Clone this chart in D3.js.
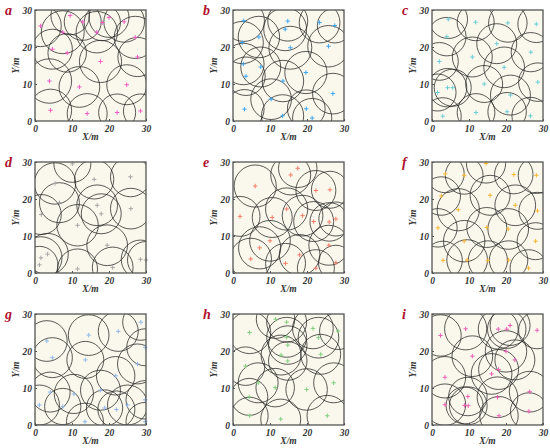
<!DOCTYPE html>
<html><head><meta charset="utf-8">
<script src="https://cdn.jsdelivr.net/npm/d3@7"></script>
<style>body{margin:0;background:#fff}svg{display:block}</style>
</head><body>
<svg id="c" width="550" height="448"></svg>
<script>
const panelLabels = ["a","b","c","d","e","f","g","h","i"];
const tickValues = [0,10,20,30];
const tickLabels = ["0","10","20","30"];
const xLabel = "X/m", yLabel = "Y/m";
const markColors = ["#f25cc6","#3ea8f2","#6ccdd6","#a6a6a6","#f47c68","#f6b631","#92b8ea","#82cf82","#ee5fb4"];

const ax = [1.5,9.5,12.9,18.2,20,24.1,7.5,16.7,27.1,4.7,8.7,27.7,17.7,3.9,12,24.8,4.2,14.1,22.2,28.5];
const ay = [25.7,28.5,26.8,26.6,28,26.8,24,24,22.6,19.4,18.4,17.3,16.1,10.8,9.2,9.8,2.9,2,2.3,2.7];
const ar = [5.6,5.2,5.0,4.9,5.4,5.5,5.8,5.6,5.7,5.4,5.2,5.3,5.7,6.0,5.5,5.4,5.7,5.4,5.0,4.6];

const bx = [2.9,14.8,14.1,23.4,27.5,2.5,7,15.5,25.8,2.8,7.5,3.5,19.7,13.5,27,10.3,3.1,13.4,19.8,21.4];
const by = [27.1,27,24.8,26.6,25.8,21.2,22.7,19.8,20.2,15.4,14.6,12.1,13.1,10.8,7.4,5.9,3.2,1.4,3.3,0.8];
const br = [5.6,5.4,5.8,5.5,4.7,5.7,5.6,5.8,5.6,5.6,5.4,5.2,5.7,5.6,5.5,5.5,5.3,5.7,5.1,5.3];

const cx = [4.4,11.8,20.5,28.2,4,17.5,26.7,2,10.9,19.5,14.1,28.6,1.5,4.2,5.6,21.2,2.9,11.9,20.3,26.6];
const cy = [27.5,26.7,26.5,26.2,22.8,20.9,18.6,16.1,17.3,14.5,10,10.5,7.7,9,9,7,1.3,2.3,2.5,1.4];
const cr = [5.2,5.0,5.2,5.0,5.2,5.4,5.3,5.1,5.4,5.5,5.0,5.2,5.0,5.2,5.0,5.4,5.0,5.1,5.2,5.0];

const dx = [10.1,5.4,16,25.8,6.6,16.8,17.9,25.9,1.7,11.5,19.5,1.6,3.4,1.2,11.5,21,28.5,30];
const dy = [29.5,24.2,25.3,26,19,18.3,16,17.4,15.8,12.9,7.5,4.1,5.1,2.2,1.1,1.5,3.7,3.5];
const dr = [5.0,5.6,5.3,5.4,5.4,5.5,5.4,5.5,5.4,5.6,5.5,5.7,5.6,5.0,5.4,5.5,5.2,5.0];

const ex = [17.5,15.6,6,22.4,26.2,1.9,14.5,18.8,10.6,21.8,26,27.8,10,7.2,4.8,18,25.9,14.2,22.4,27.8];
const ey = [28.3,26.5,23.5,22.3,22.5,15.3,17.3,15.5,15,13.9,13.8,14.6,8.7,6.8,3.8,4.9,7.5,2.6,1.3,2.8];
const er = [5.2,5.4,5.7,5.4,5.0,5.4,5.7,5.5,5.4,5.4,5.2,4.6,5.5,5.7,5.6,5.5,5.4,5.4,5.0,4.7];

const fx = [14.6,3.6,8.7,22.1,28.2,2.5,15.7,7.1,22.5,28.5,1.6,14.8,20.6,8.7,28,3,9.5,15.1,20.7,26.1];
const fy = [29.6,26.8,26.4,26.6,26.4,20.8,21,17.1,18.3,16.8,12.2,12.3,11.9,8.6,8.6,3.4,3.5,3.4,3.5,1.3];
const fr = [5.3,5.1,5.1,5.2,4.9,5.2,5.4,5.7,5.5,5.0,5.2,5.4,5.5,5.6,5.0,5.2,5.5,5.3,5.2,5.0];

const gx = [28.6,22.5,14.5,3.2,4.7,13.6,27.7,29.8,21.8,17.7,4.1,10.5,1.2,7.5,18.8,22,25,29.8,13.5,29.8];
const gy = [27.8,25.3,24.3,22.7,18.2,17.6,16.5,21,13.3,9.4,8.9,8.4,5.4,5,4.6,4.2,5.4,6.8,0.9,0.9];
const gr = [4.9,5.4,5.5,5.5,5.4,5.0,5.4,5.0,5.2,5.4,5.4,5.3,5.4,4.9,4.9,5.0,5.4,5.2,5.0,5.2];

const hx = [11.5,14.5,4.5,21.6,28.4,14.5,14.8,23.1,13,23.7,14.8,3.4,6.8,11.4,19.9,27.2,4.4,4.5,12.9,25.5];
const hy = [28.6,27.8,25,26.1,25.4,23.7,21.6,23.6,18.9,19.1,17.3,15.9,11.4,10.1,9.6,11.4,7.6,2.5,1.6,2.5];
const hr = [5.2,5.4,5.7,5.5,5.0,5.4,5.2,5.5,5.4,5.4,5.2,5.2,5.4,5.2,5.6,5.4,5.0,5.0,5.4,5.5];

const ix = [2.3,9.1,17.9,20.2,21.1,28.4,20,22.4,10.9,18,16.1,3.5,26.4,9.7,3.5,8.8,9.8,17.7,18.1,26.2];
const iy = [24.2,26,25.9,25.9,26.9,25.6,19.9,17.6,18.6,15,13.8,12.9,9,7.7,5.5,5.3,5.2,7.5,2.5,3.7];
const ir = [5.6,5.7,5.4,5.2,5.4,5.0,5.6,5.4,5.5,5.4,5.5,5.6,5.5,5.2,5.6,5.0,5.1,5.5,5.2,5.0];

const panelData = [[ax,ay,ar],[bx,by,br],[cx,cy,cr],[dx,dy,dr],[ex,ey,er],[fx,fy,fr],[gx,gy,gr],[hx,hy,hr],[ix,iy,ir]];

const svg = d3.select("#c");
const colLeft = [35,233,432], rowTop = [10,162,314], W = 111, H = 111;
const defs = svg.append("defs");
const serif = "'Liberation Serif','DejaVu Serif',serif";

panelData.forEach((pd, k) => {
  const L = colLeft[k % 3], T = rowTop[Math.floor(k / 3)];
  const x = d3.scaleLinear().domain([0,30]).range([L, L + W]);
  const y = d3.scaleLinear().domain([0,30]).range([T + H, T]);
  const g = svg.append("g");
  defs.append("clipPath").attr("id","clip"+k).append("rect")
    .attr("x",L).attr("y",T).attr("width",W).attr("height",H);
  g.append("rect").attr("x",L).attr("y",T).attr("width",W).attr("height",H).attr("fill","#faf8ec");
  const [px, py, pr] = pd;
  const pts = px.map((v,i)=>({x:v,y:py[i],r:pr[i]}));
  const cg = g.append("g").attr("clip-path","url(#clip"+k+")");
  cg.selectAll("circle").data(pts).join("circle")
    .attr("cx",d=>x(d.x)).attr("cy",d=>y(d.y))
    .attr("r",d=>x(d.r)-x(0))
    .attr("fill","none").attr("stroke","#262626").attr("stroke-width",0.85).attr("stroke-opacity",0.9);
  const s = 2.2;
  const mg = g.append("g").attr("stroke",markColors[k]).attr("stroke-width",1);
  mg.selectAll("path").data(pts).join("path")
    .attr("d",d=>{const X=x(d.x),Y=y(d.y);return `M${X-s},${Y}H${X+s}M${X},${Y-s}V${Y+s}`;});
  g.append("rect").attr("x",L).attr("y",T).attr("width",W).attr("height",H)
    .attr("fill","none").attr("stroke","#555").attr("stroke-width",1.3);
  const xa = d3.axisBottom(x).tickValues(tickValues).tickFormat((d,i)=>tickLabels[i]).tickSizeInner(-2).tickSizeOuter(0).tickPadding(4);
  const ya = d3.axisLeft(y).tickValues(tickValues).tickFormat((d,i)=>tickLabels[i]).tickSizeInner(-2).tickSizeOuter(0).tickPadding(3);
  const gx_ = g.append("g").attr("transform",`translate(0,${T+H})`).call(xa);
  const gy_ = g.append("g").attr("transform",`translate(${L},0)`).call(ya);
  [gx_,gy_].forEach(a=>{
    a.select(".domain").remove();
    a.selectAll("line").attr("stroke","#555");
    a.selectAll("text").attr("font-family",serif).attr("font-style","italic").attr("font-weight","bold")
      .attr("font-size",9.5).attr("fill","#333");
  });
  g.append("text").attr("x",L+W/2).attr("y",T+H+19).attr("text-anchor","middle")
    .attr("font-family",serif).attr("font-style","italic").attr("font-weight","bold").attr("font-size",9.5).attr("fill","#333").text(xLabel);
  g.append("text").attr("transform",`translate(${L-16},${T+H/2}) rotate(-90)`).attr("text-anchor","middle")
    .attr("font-family",serif).attr("font-style","italic").attr("font-weight","bold").attr("font-size",9.5).attr("fill","#333").text(yLabel);
  g.append("text").attr("x",L-30).attr("y",T+5).attr("font-family",serif).attr("font-style","italic").attr("font-weight","bold")
    .attr("font-size",14).attr("fill","#b0102e").text(panelLabels[k]);
});
</script>
</body></html>
